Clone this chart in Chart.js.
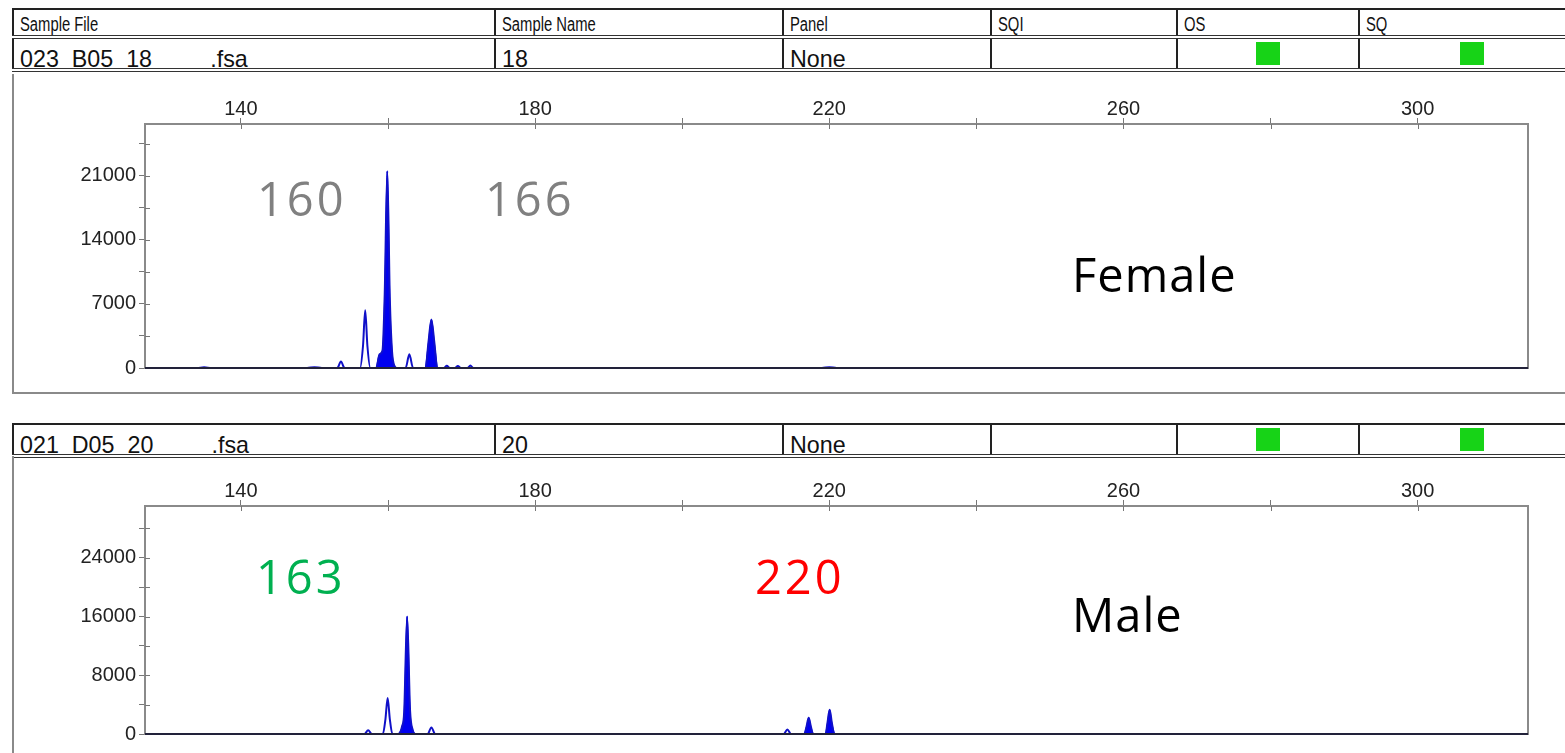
<!DOCTYPE html>
<html lang="en">
<head>
<meta charset="UTF-8">
<title>Fragment analysis - Female / Male</title>
<script src="https://cdn.jsdelivr.net/npm/chart.js"></script>
<style>
    body { margin: 0; width: 1565px; height: 753px; overflow: hidden; background: #fff; position: relative; }
    .tbl { position: absolute; left: 12px; width: 1560px; border-collapse: collapse; table-layout: fixed;
           font-family: "Liberation Sans", Arial, sans-serif; color: #111; }
    .tbl td { border-left: 2px solid #222; padding: 0 0 0 6px; overflow: hidden; white-space: pre; position: relative; }
    .tbl td span { display: inline-block; transform-origin: left center; }
    .tbl tr.head td { height: 25px; font-size: 20px; line-height: 1; border-top: 2px solid #222; border-bottom: 4px double #333; }
    .tbl tr.head td span { transform: scaleX(0.74); position: relative; top: 1px; }
    .tbl tr.row td { height: 29px; font-size: 24px; line-height: 1; border-bottom: 4px double #333; vertical-align: bottom; }
    .tbl tr.row td span { transform: scaleX(0.97); position: relative; top: 3px; }
    .tbl tr.row.first td { border-top: 2px solid #222; }
    .sq { position: absolute; top: 3px; width: 24px; height: 23px; background: #17d317; }
    .panel { position: absolute; left: 12px; width: 1560px; border-left: 2px solid #8a8a8a; border-bottom: 2px solid #8a8a8a; }
    canvas { position: absolute; left: 0; }
    .note { position: absolute; font-family: "Open Sans", "DejaVu Sans", sans-serif; font-size: 47px; letter-spacing: 3px; line-height: 1; }
</style>
</head>
<body>

<table class="tbl" id="tbl1" style="top:8px">
    <colgroup><col style="width:482px"><col style="width:288px"><col style="width:208px"><col style="width:186px"><col style="width:182px"><col></colgroup>
</table>
<div class="panel" style="top:74px;height:318px"></div>
<canvas id="female" width="1565" height="318" style="top:74px"></canvas>

<table class="tbl" id="tbl2" style="top:423px">
    <colgroup><col style="width:482px"><col style="width:288px"><col style="width:208px"><col style="width:186px"><col style="width:182px"><col></colgroup>
</table>
<div class="panel" style="top:456px;height:320px;border-bottom:none"></div>
<canvas id="male" width="1565" height="297" style="top:456px"></canvas>

<div class="note" style="left:257px;top:175px;color:#808080">160</div>
<div class="note" style="left:485px;top:175px;color:#808080">166</div>
<div class="note" style="left:1072px;top:251px;color:#000;letter-spacing:1px">Female</div>
<div class="note" style="left:256px;top:553px;color:#00b050">163</div>
<div class="note" style="left:755px;top:553px;color:#ff0000">220</div>
<div class="note" style="left:1072px;top:591px;color:#000;letter-spacing:1px">Male</div>

<script>
    // table texts
    const headers = ['Sample File', 'Sample Name', 'Panel', 'SQI', 'OS', 'SQ'];
    const femaleRow = ['023_B05_18         .fsa', '18', 'None', '', '', ''];
    const maleRow = ['021_D05_20         .fsa', '20', 'None', '', '', ''];

    // x axis (size, bp) and y axis (RFU)
    const X_MIN = 126.96;
    const X_MAX = 315.0;
    const xTicks = [140, 160, 180, 200, 220, 240, 260, 280, 300];
    const xTickLabels = [140, 180, 220, 260, 300];

    const femaleYMax = 26660;
    const femaleYTicks = [0, 3500, 7000, 10500, 14000, 17500, 21000, 24500];
    const femaleYLabels = [0, 7000, 14000, 21000];

    const maleYMax = 31050;
    const maleYTicks = [0, 4000, 8000, 12000, 16000, 20000, 24000, 28000];
    const maleYLabels = [0, 8000, 16000, 24000];

    // female trace: [size, height]
    const femaleTrace = [
        [126.96, 0], [134, 0], [135, 80], [136, 0], [149, 0], [150, 90], [151, 0],
        [153.1, 0], [153.6, 700], [154.1, 0],
        [156.2, 0], [156.6, 2400], [156.9, 6300], [157.2, 2400], [157.6, 0],
        [158.4, 0], [158.85, 1500], [159.25, 1900], [159.55, 8000], [159.9, 21500],
        [160.25, 7500], [160.55, 1800], [160.9, 200], [161.2, 0],
        [162.4, 0], [162.9, 1500], [163.4, 0],
        [165.1, 0], [165.5, 2800], [165.9, 5300], [166.3, 2800], [166.7, 0],
        [167.6, 0], [168.0, 250], [168.4, 0], [169.1, 0], [169.5, 220], [169.9, 0],
        [170.8, 0], [171.2, 260], [171.6, 0],
        [219, 0], [220, 90], [221, 0], [315.0, 0]
    ];
    // called (filled) peaks, as size ranges
    const femaleCalled = [[158.4, 161.2], [165.1, 166.7]];

    // male trace: [size, height]
    const maleTrace = [
        [126.96, 0], [156.8, 0], [157.3, 500], [157.8, 0],
        [159.3, 0], [159.65, 2000], [159.95, 4900], [160.25, 2000], [160.6, 0],
        [161.4, 0], [161.9, 1000], [162.2, 3000], [162.6, 16000], [163.0, 3200],
        [163.35, 600], [163.7, 0], [165.4, 0], [165.9, 900], [166.4, 0],
        [213.8, 0], [214.3, 600], [214.8, 0],
        [216.6, 0], [216.9, 1000], [217.2, 2200], [217.5, 1000], [217.8, 0],
        [219.5, 0], [219.75, 1500], [220.05, 3300], [220.35, 1500], [220.7, 0],
        [315.0, 0]
    ];
    const maleCalled = [[161.4, 163.7], [216.6, 217.8], [219.5, 220.7]];

    function fillTable(id, rows) {
        const tbl = document.getElementById(id);
        rows.forEach((cells, r) => {
            const tr = document.createElement('tr');
            tr.className = cells === headers ? 'head' : (r === 0 ? 'row first' : 'row');
            cells.forEach((txt, c) => {
                const td = document.createElement('td');
                const span = document.createElement('span');
                span.textContent = txt;
                td.appendChild(span);
                if (cells !== headers && (c === 4 || c === 5)) {
                    const sq = document.createElement('div');
                    sq.className = 'sq';
                    sq.style.left = (c === 4 ? 78 : 100) + 'px';
                    td.appendChild(sq);
                }
                tr.appendChild(td);
            });
            tbl.appendChild(tr);
        });
    }
    fillTable('tbl1', [headers, femaleRow]);
    fillTable('tbl2', [maleRow]);

    const tickFont = { family: '"Liberation Sans", Arial, sans-serif', size: 20 };

    // frame round the plot area, base line, tick marks reaching inside
    const framePlugin = {
        id: 'frame',
        afterDraw(chart) {
            const a = chart.chartArea, ctx = chart.ctx;
            const xs = chart.scales.x, ys = chart.scales.y;
            ctx.save();
            ctx.strokeStyle = '#8a8a8a';
            ctx.lineWidth = 2;
            ctx.strokeRect(a.left, a.top, a.right - a.left, a.bottom - a.top);
            ctx.lineWidth = 1;
            ctx.strokeStyle = '#777';
            ctx.beginPath();
            xs.ticks.forEach(t => {
                const px = Math.round(xs.getPixelForValue(t.value)) + 0.5;
                ctx.moveTo(px, a.top); ctx.lineTo(px, a.top + 5);
            });
            ys.ticks.forEach(t => {
                const py = Math.round(ys.getPixelForValue(t.value)) + 0.5;
                ctx.moveTo(a.left, py); ctx.lineTo(a.left + 5, py);
            });
            ctx.stroke();
            ctx.lineWidth = 2;
            ctx.strokeStyle = '#22223a';
            ctx.beginPath();
            ctx.moveTo(a.left, a.bottom);
            ctx.lineTo(a.right, a.bottom);
            ctx.stroke();
            ctx.restore();
        }
    };

    function makeChart(id, trace, called, yMax, yTicks, yLabels, bottomPad) {
        const pts = trace.map(p => ({ x: p[0], y: p[1] }));
        // one filled piece per called peak, broken by a gap
        const filled = [];
        called.forEach(r => {
            pts.filter(p => p.x >= r[0] && p.x <= r[1]).forEach(p => filled.push(p));
            filled.push({ x: r[1] + 0.01, y: null });
        });
        return new Chart(document.getElementById(id), {
            type: 'line',
            data: {
                datasets: [
                    { data: pts, borderColor: '#1010c8', borderWidth: 2, pointRadius: 0, fill: false,
                      cubicInterpolationMode: 'monotone', order: 0 },
                    { data: filled, borderColor: '#0000f0', backgroundColor: '#0000f0', borderWidth: 1,
                      pointRadius: 0, fill: 'origin', spanGaps: false, cubicInterpolationMode: 'monotone', order: 1 }
                ]
            },
            options: {
                responsive: false,
                animation: false,
                layout: { padding: { left: 0, right: 37, top: 0, bottom: bottomPad } },
                plugins: { legend: { display: false }, tooltip: { enabled: false } },
                scales: {
                    x: {
                        type: 'linear', position: 'top', min: X_MIN, max: X_MAX,
                        afterFit: s => { s.height = 50; },
                        afterBuildTicks: s => { s.ticks = xTicks.map(v => ({ value: v })); },
                        ticks: { autoSkip: false, maxRotation: 0, color: '#222', font: tickFont, padding: -3,
                                 callback: v => xTickLabels.includes(v) ? String(v) : '' },
                        grid: { drawOnChartArea: false, tickLength: 6, color: '#777' },
                        border: { display: false }
                    },
                    y: {
                        type: 'linear', min: 0, max: yMax,
                        afterFit: s => { s.width = 145; },
                        afterBuildTicks: s => { s.ticks = yTicks.map(v => ({ value: v })); },
                        ticks: { autoSkip: false, color: '#222', font: tickFont, padding: 3,
                                 callback: v => yLabels.includes(v) ? String(v) : '' },
                        grid: { drawOnChartArea: false, tickLength: 6, color: '#777' },
                        border: { display: false }
                    }
                }
            },
            plugins: [framePlugin]
        });
    }

    makeChart('female', femaleTrace, femaleCalled, femaleYMax, femaleYTicks, femaleYLabels, 24);
    makeChart('male', maleTrace, maleCalled, maleYMax, maleYTicks, maleYLabels, 19);
</script>
</body>
</html>
